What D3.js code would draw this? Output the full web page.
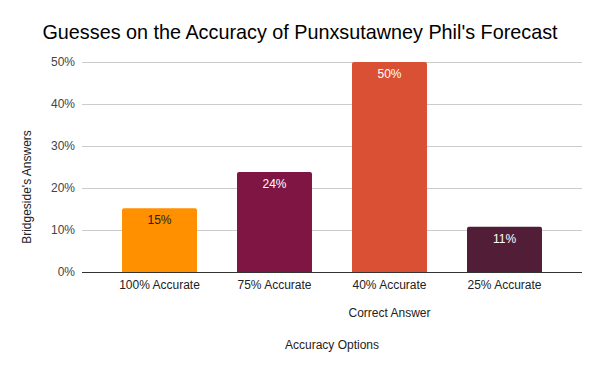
<!DOCTYPE html>
<html>
<head>
<meta charset="utf-8">
<script src="https://cdn.jsdelivr.net/npm/d3@7"></script>
<style>
  body { margin: 0; background: #fff; }
  svg { font-family: Arial, "Liberation Sans", sans-serif; }
</style>
</head>
<body>
<div id="chart"></div>
<script>
// chart data
var categories = ["100% Accurate", "75% Accurate", "40% Accurate", "25% Accurate"];
var shares = [0.152, 0.238, 0.50, 0.108];
var barColors = ["#ff9000", "#7f1542", "#d95035", "#521e37"];
var labelColors = ["#222222", "#ffffff", "#ffffff", "#ffffff"];
var yTicks = [0, 0.1, 0.2, 0.3, 0.4, 0.5];
var correctAnswer = "40% Accurate";

var width = 600, height = 371;
var margin = {top: 62, right: 18, bottom: 99, left: 82};

var svg = d3.select("#chart").append("svg")
    .attr("width", width)
    .attr("height", height);

svg.append("text")
    .attr("x", width / 2)
    .attr("y", 39)
    .attr("text-anchor", "middle")
    .style("font-size", "19.8px")
    .attr("fill", "#000")
    .text("Guesses on the Accuracy of Punxsutawney Phil's Forecast");

var x = d3.scaleBand()
    .domain(categories)
    .range([margin.left, width - margin.right])
    .padding(0.348);

var y = d3.scaleLinear()
    .domain([0, 0.5])
    .range([height - margin.bottom, margin.top]);

// gridlines
svg.append("g")
    .selectAll("line")
    .data(yTicks.slice(1))
    .enter()
    .append("line")
    .attr("x1", margin.left)
    .attr("x2", width - margin.right)
    .attr("y1", function(d) { return y(d); })
    .attr("y2", function(d) { return y(d); })
    .attr("stroke", "#cccccc")
    .attr("stroke-width", 1)
    .attr("shape-rendering", "crispEdges");

// y tick labels
var yAxis = d3.axisLeft(y)
    .tickValues(yTicks)
    .tickFormat(d3.format(".0%"))
    .tickSize(0)
    .tickPadding(7);

svg.append("g")
    .attr("class", "y axis")
    .attr("transform", "translate(" + margin.left + ",0)")
    .call(yAxis)
    .call(function(g) { g.select(".domain").remove(); })
    .selectAll("text")
    .style("font-size", "12px")
    .style("font-family", "Arial, 'Liberation Sans', sans-serif")
    .attr("fill", "#444");

// bars with slightly rounded tops
var r = 2;
svg.append("g")
    .selectAll("path")
    .data(shares)
    .enter()
    .append("path")
    .attr("fill", function(d, i) { return barColors[i]; })
    .attr("d", function(d, i) {
        var x0 = x(categories[i]), x1 = x0 + x.bandwidth();
        var y0 = y(0), y1 = y(d);
        return "M" + x0 + "," + y0 +
            "L" + x0 + "," + (y1 + r) +
            "Q" + x0 + "," + y1 + " " + (x0 + r) + "," + y1 +
            "L" + (x1 - r) + "," + y1 +
            "Q" + x1 + "," + y1 + " " + x1 + "," + (y1 + r) +
            "L" + x1 + "," + y0 + "Z";
    });

// value labels
svg.append("g")
    .selectAll("text")
    .data(shares)
    .enter()
    .append("text")
    .attr("x", function(d, i) { return x(categories[i]) + x.bandwidth() / 2; })
    .attr("y", function(d) { return y(d) + 16; })
    .attr("text-anchor", "middle")
    .style("font-size", "12px")
    .attr("fill", function(d, i) { return labelColors[i]; })
    .text(d3.format(".0%"));

// baseline
svg.append("line")
    .attr("x1", margin.left)
    .attr("x2", width - margin.right)
    .attr("y1", y(0))
    .attr("y2", y(0))
    .attr("stroke", "#333")
    .attr("stroke-width", 1)
    .attr("shape-rendering", "crispEdges");

// x tick labels
var xAxis = d3.axisBottom(x).tickSize(0).tickPadding(8);
svg.append("g")
    .attr("class", "x axis")
    .attr("transform", "translate(0," + y(0) + ")")
    .call(xAxis)
    .call(function(g) { g.select(".domain").remove(); })
    .selectAll("text")
    .style("font-size", "12px")
    .style("font-family", "Arial, 'Liberation Sans', sans-serif")
    .attr("fill", "#222");

// annotation under the correct answer
svg.append("text")
    .attr("x", x(correctAnswer) + x.bandwidth() / 2)
    .attr("y", 317)
    .attr("text-anchor", "middle")
    .style("font-size", "12px")
    .attr("fill", "#222")
    .text("Correct Answer");

// axis titles
svg.append("text")
    .attr("x", 332)
    .attr("y", 349)
    .attr("text-anchor", "middle")
    .style("font-size", "12px")
    .attr("fill", "#222")
    .text("Accuracy Options");

svg.append("text")
    .attr("transform", "translate(31,187) rotate(-90)")
    .attr("text-anchor", "middle")
    .style("font-size", "12px")
    .attr("fill", "#222")
    .text("Bridgeside's Answers");
</script>
</body>
</html>
